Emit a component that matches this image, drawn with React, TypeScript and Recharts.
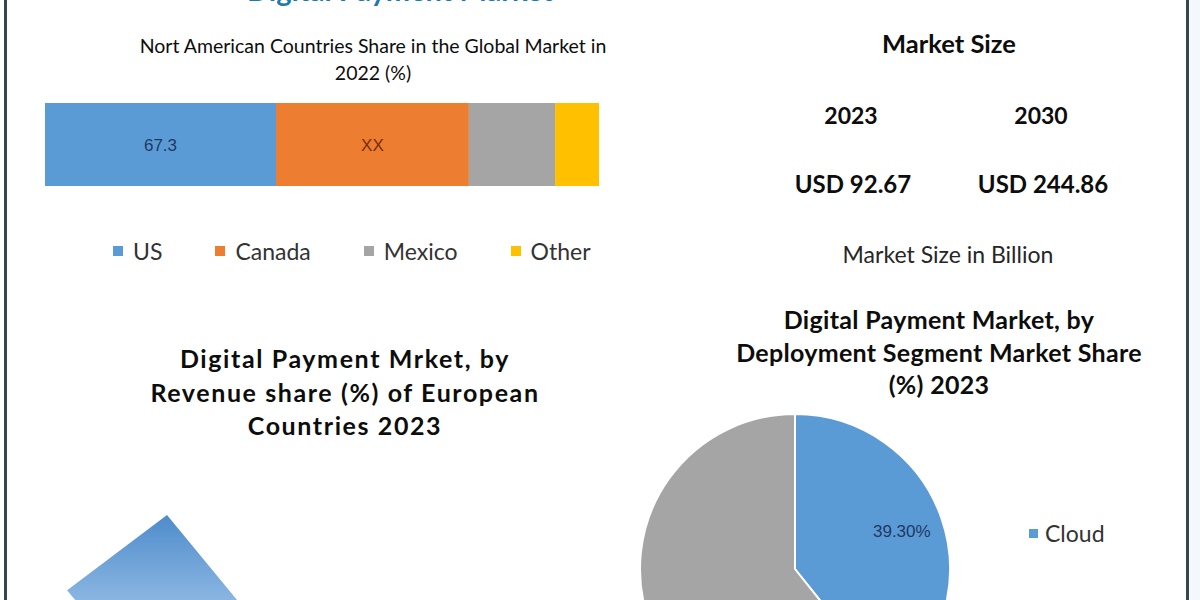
import React from 'react';
import { BarChart, Bar, XAxis, YAxis, Legend, PieChart, Pie, Cell } from 'recharts';

// ---- North America stacked bar ----
const naCategory = ['2022'];
const naSeries = ['US', 'Canada', 'Mexico', 'Other'];
const naValues = [67.3, 56.2, 25.1, 12.8];
const naLabels = ['67.3', 'XX', '', ''];
const naColors = ['#5b9bd5', '#ed7d31', '#a5a5a5', '#ffc000'];
const naLabelColors = ['#1f3864', '#7a2e0a', '#000000', '#000000'];

// ---- Market size ----
const marketYears = ['2023', '2030'];
const marketValues = ['USD 92.67', 'USD 244.86'];

// ---- European revenue share pie (only the visible slice) ----
const euNames = ['Europe leader', 'Rest'];
const euValues = [25.7, 74.3];

// ---- Deployment segment pie ----
const deployNames = ['Cloud', 'On-premise'];
const deployValues = [39.3, 60.7];
const deployLabels = ['39.30%', '60.70%'];
const deployColors = ['#5b9bd5', '#a5a5a5'];
const deployLabelColors = ['#1f3864', '#262626'];

const naRow: Record<string, any> = { name: naCategory[0] };
naSeries.forEach((s, i) => { naRow[s] = naValues[i]; });
const naData = [naRow];
const naTotal = naValues.reduce((a, b) => a + b, 0);

const euData = euNames.map((n, i) => ({ name: n, value: euValues[i] }));
const deployData = deployNames.map((n, i) => ({ name: n, value: deployValues[i] }));

const BODY = "Lato, 'Open Sans', sans-serif";
const NUM = "'Liberation Sans', Arial, sans-serif";

function Txt({ x, y, size, bold, color, children, family, spacing }: any) {
  const lh = Math.round(size * 1.2);
  return (
    <div
      style={{
        position: 'absolute',
        left: x - 300,
        width: 600,
        top: y - lh / 2,
        height: lh,
        lineHeight: lh + 'px',
        fontSize: size,
        fontWeight: bold ? 700 : 400,
        color: color || '#0d0d0d',
        textAlign: 'center',
        fontFamily: family || BODY,
        whiteSpace: 'nowrap',
        letterSpacing: spacing || 0,
      }}
    >
      {children}
    </div>
  );
}

const RADIAN = Math.PI / 180;

function orderPayload(payload: any[], names: string[]) {
  return names.map((n) => (payload || []).find((p: any) => p.value === n)).filter(Boolean);
}

export default function App() {
  return (
    <div
      style={{
        position: 'absolute',
        left: 0,
        top: 0,
        width: 1200,
        height: 600,
        overflow: 'hidden',
        background: '#ffffff',
        fontFamily: BODY,
      }}
    >
      {/* right outside tint */}
      <div style={{ position: 'absolute', left: 1190, top: 0, width: 10, height: 600, background: '#f2f8fc' }} />
      {/* frame lines */}
      <div style={{ position: 'absolute', left: 4, top: 0, width: 3, height: 600, background: '#34474f' }} />
      <div style={{ position: 'absolute', left: 1186, top: 0, width: 3, height: 600, background: '#34474f' }} />

      {/* cut-off main title */}
      <svg width={1200} height={20} style={{ position: 'absolute', left: 0, top: 0 }}>
        <text x={400} y={1} textAnchor="middle" fontFamily={BODY} fontWeight={700} fontSize={29} fill="#1c78ad">
          Digital Payment Market
        </text>
      </svg>

      {/* NA title */}
      <Txt x={373} y={45} size={19.5}>Nort American Countries Share in the Global Market in</Txt>
      <Txt x={373} y={72} size={19.5}>2022 (%)</Txt>

      <div style={{ position: 'absolute', left: 0, top: 0 }}>
        <BarChart
          width={610}
          height={290}
          data={naData}
          layout="vertical"
          margin={{ top: 103, right: 11, bottom: 104, left: 45 }}
          barCategoryGap={0}
        >
          <XAxis type="number" hide domain={[0, naTotal]} />
          <YAxis type="category" dataKey="name" hide />
          {naSeries.map((s, i) => (
            <Bar
              key={s}
              dataKey={s}
              stackId="na"
              fill={naColors[i]}
              isAnimationActive={false}
              label={(p: any) =>
                naLabels[i] ? (
                  <text
                    x={p.x + p.width / 2}
                    y={p.y + p.height / 2 + 1}
                    textAnchor="middle"
                    dominantBaseline="central"
                    fill={naLabelColors[i]}
                    fontSize={17}
                    fontFamily={NUM}
                  >
                    {naLabels[i]}
                  </text>
                ) : (
                  <g />
                )
              }
            />
          ))}
          <Legend
            layout="horizontal"
            verticalAlign="middle"
            wrapperStyle={{ left: 113, top: 237, width: 500, height: 28 }}
            content={(props: any) => (
              <div style={{ display: 'flex', alignItems: 'center', gap: 53, fontFamily: BODY }}>
                {orderPayload(props.payload, naSeries).map((e: any) => (
                  <div key={e.value} style={{ display: 'flex', alignItems: 'center' }}>
                    <span style={{ display: 'inline-block', width: 10, height: 10, background: e.color, marginRight: 10 }} />
                    <span style={{ fontSize: 23, color: '#333', lineHeight: '28px' }}>{e.value}</span>
                  </div>
                ))}
              </div>
            )}
          />
        </BarChart>
      </div>

      {/* Market size block */}
      <Txt x={949} y={43} size={25.5} bold>Market Size</Txt>
      <Txt x={851} y={115} size={23} bold>{marketYears[0]}</Txt>
      <Txt x={1041} y={115} size={23} bold>{marketYears[1]}</Txt>
      <Txt x={853} y={183} size={24} bold>{marketValues[0]}</Txt>
      <Txt x={1043} y={183} size={24} bold>{marketValues[1]}</Txt>
      <Txt x={948} y={254} size={23} color="#262626">Market Size in Billion</Txt>

      {/* European title */}
      <Txt x={345} y={358} size={25} bold spacing={1.6}>Digital Payment Mrket, by</Txt>
      <Txt x={345} y={392} size={25} bold spacing={1.6}>Revenue share (%) of European</Txt>
      <Txt x={345} y={425} size={25} bold spacing={1.6}>Countries 2023</Txt>

      <div style={{ position: 'absolute', left: 0, top: 300 }}>
        <PieChart width={600} height={300} margin={{ top: 0, right: 0, bottom: 0, left: 0 }}>
          <defs>
            <linearGradient id="euGrad" x1="0" y1="0" x2="0" y2="1">
              <stop offset="0%" stopColor="#4e8ccb" />
              <stop offset="100%" stopColor="#a6c9ec" />
            </linearGradient>
          </defs>
          <Pie
            data={euData}
            dataKey="value"
            nameKey="name"
            cx={167}
            cy={215}
            outerRadius={125}
            startAngle={-50.5}
            endAngle={-410.5}
            stroke="none"
            isAnimationActive={false}
          >
            {euData.map((d, i) => (
              <Cell key={d.name} fill={i === 0 ? 'url(#euGrad)' : 'none'} />
            ))}
          </Pie>
        </PieChart>
      </div>

      {/* Deployment title */}
      <Txt x={939} y={319} size={25} bold spacing={0.3}>Digital Payment Market, by</Txt>
      <Txt x={939} y={352} size={25} bold spacing={0.3}>Deployment Segment Market Share</Txt>
      <Txt x={939} y={384} size={25} bold spacing={0.3}>(%) 2023</Txt>

      <div style={{ position: 'absolute', left: 600, top: 280 }}>
        <PieChart width={600} height={340} margin={{ top: 0, right: 0, bottom: 0, left: 0 }}>
          <Pie
            data={deployData}
            dataKey="value"
            nameKey="name"
            cx={195}
            cy={289}
            outerRadius={155}
            startAngle={90}
            endAngle={-270}
            stroke="#ffffff"
            strokeWidth={2}
            isAnimationActive={false}
            labelLine={false}
            label={(p: any) => {
              const r = p.outerRadius * 0.73;
              const x = p.cx + r * Math.cos(-p.midAngle * RADIAN);
              const y = p.cy + r * Math.sin(-p.midAngle * RADIAN);
              return (
                <text
                  x={x}
                  y={y}
                  textAnchor="middle"
                  dominantBaseline="central"
                  fill={deployLabelColors[p.index]}
                  fontSize={17}
                  fontFamily={NUM}
                >
                  {deployLabels[p.index]}
                </text>
              );
            }}
          >
            {deployData.map((d, i) => (
              <Cell key={d.name} fill={deployColors[i]} />
            ))}
          </Pie>
          <Legend
            layout="horizontal"
            verticalAlign="middle"
            wrapperStyle={{ left: 429, top: 239, width: 170, height: 120 }}
            content={(props: any) => (
              <div style={{ display: 'flex', flexDirection: 'column', gap: 54, fontFamily: BODY }}>
                {orderPayload(props.payload, deployNames).map((e: any) => (
                  <div key={e.value} style={{ display: 'flex', alignItems: 'center' }}>
                    <span style={{ display: 'inline-block', width: 9, height: 9, background: e.color, marginRight: 7 }} />
                    <span style={{ fontSize: 23, color: '#333', lineHeight: '28px' }}>{e.value}</span>
                  </div>
                ))}
              </div>
            )}
          />
        </PieChart>
      </div>
    </div>
  );
}
